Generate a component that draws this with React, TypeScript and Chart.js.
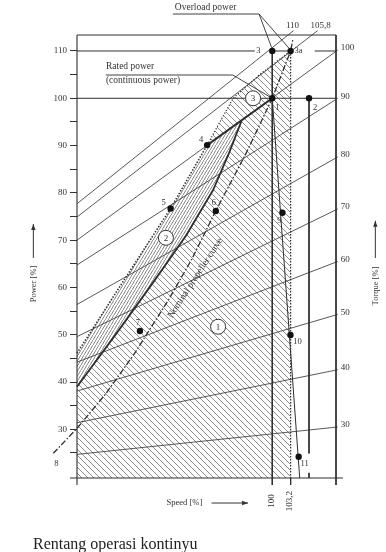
import React, { useEffect, useRef } from 'react';
import { Chart, registerables } from 'chart.js';

Chart.register(...registerables);

// ---------------- Data ----------------
const SPEED_MIN = 66;
const SPEED_MAX = 111.1;
const POWER_MIN = 19.71;
const POWER_MAX = 113.38;

const powerTicks = [25, 30, 35, 40, 45, 50, 55, 60, 65, 70, 75, 80, 85, 90, 95, 100, 105, 110];
const powerTickLabels = ['', '30', '', '40', '', '50', '', '60', '', '70', '', '80', '', '90', '', '100', '', '110'];
const speedTicks = [100, 103.2];
const speedTickLabels = ['100', '103,2'];

// torque lines (straight), start at left axis, end at right frame / top
const torqueLabels = ['110', '105,8', '100', '90', '80', '70', '60', '50', '40', '30'];
const torqueStartPower = [77.7, 74.9, 70, 64.75, 56.4, 49.6, 44.2, 38.1, 31.4, 24.7];
const torqueEndSpeed = [103.7, 107.9, 111.4, 111.4, 111.4, 111.4, 111.4, 111.4, 111.4, 111.4];
const torqueEndPower = [114.3, 114.3, 110.2, 100, 87.6, 76.6, 65.5, 54.3, 42.6, 30.5];

// numbered operating points
const pointNames = ['3', '3a', '1', '2', '4', '5', '6', '7', '8', '9', '10', '11'];
const pointSpeed = [100, 103.2, 100, 106.4, 88.66, 82.3, 90.17, 76.96, 61.88, 101.77, 103.17, 104.6];
const pointPower = [110, 110, 100, 100, 90.1, 76.7, 76.17, 50.8, 24.93, 75.8, 49.95, 24.2];

// circled zone numbers
const zoneNames = ['1', '2', '3'];
const zoneSpeed = [90.57, 81.48, 96.66];
const zonePower = [51.7, 70.5, 100];

// boundary of continuous range (thick solid curve)
const limitSpeed = [66, 73, 79.57, 85, 89.7, 92.5, 94.64];
const limitPower = [39.0, 50.5, 61.6, 71, 80.6, 88.5, 95.2];

// overload limit (dotted curve)
const overloadSpeed = [66, 74, 82.3, 88.66, 93.18, 98, 103.2];
const overloadPower = [46.1, 61.2, 76.7, 90.1, 100, 105.2, 110];

// nominal propeller curve (dash-dot)
const propSpeed = [60.9, 61.88, 66, 71, 76, 82, 86, 90.17, 95.5, 100, 103.2, 103.6];
const propPower = [23.1, 24.93, 30.2, 37.5, 46, 57.5, 66, 76.2, 88.5, 100, 110, 112.5];

// reference levels
const ratedPower = 100;
const overloadPower110 = 110;
const ratedSpeed = 100;
const maxSpeed = 103.2;
const point2Speed = 106.4;
const lineFrom1EndSpeed = 104.78;

// ---------------- helpers ----------------
const FONT = '"Liberation Serif", "Times New Roman", serif';
const INK = '#2e2e2e';

const pts = (xs: number[], ys: number[]) => xs.map((x, i) => ({ x, y: ys[i] }));

function makeHatch(w: number, h: number, lines: number[][], color: string, lw: number) {
  const c = document.createElement('canvas');
  c.width = w;
  c.height = h;
  const g = c.getContext('2d')!;
  g.strokeStyle = color;
  g.lineWidth = lw;
  g.beginPath();
  for (const [a, b, cc, d] of lines) {
    g.moveTo(a, b);
    g.lineTo(cc, d);
  }
  g.stroke();
  return g.createPattern(c, 'repeat')!;
}

function lineDs(data: any[], o: any = {}) {
  return {
    data,
    showLine: true,
    borderColor: o.color ?? INK,
    borderWidth: o.w ?? 0.9,
    borderDash: o.dash ?? [],
    pointRadius: 0,
    pointHoverRadius: 0,
    fill: false,
    tension: 0,
    clip: false,
    order: o.order ?? 5,
  };
}

const annotate = {
  id: 'annotate',
  afterDatasetsDraw(chart: any) {
    const { ctx } = chart;
    const xs = chart.scales.x;
    const ys = chart.scales.y;
    const px = (s: number) => xs.getPixelForValue(s);
    const py = (p: number) => ys.getPixelForValue(p);
    ctx.save();
    ctx.fillStyle = '#333';

    // torque labels
    ctx.font = `9px ${FONT}`;
    torqueLabels.forEach((t, i) => {
      const ex = px(torqueEndSpeed[i]);
      const ey = py(torqueEndPower[i]);
      if (i < 2) {
        ctx.textAlign = 'center';
        ctx.textBaseline = 'middle';
        ctx.fillText(t, ex + (i === 0 ? -1 : 3), ey - 5);
      } else {
        ctx.textAlign = 'left';
        ctx.textBaseline = 'middle';
        ctx.fillText(t, ex + 3, ey - 2);
      }
    });

    // point labels
    const off: Record<string, number[]> = {
      '3': [-14, 0], '3a': [8, 0], '1': [5, 9], '2': [6, 9], '4': [-6, -5], '5': [-7, -6],
      '6': [-2, -8], '7': [-2, -8], '8': [3, 10], '9': [-3, 8], '10': [7, 7], '11': [6, 7],
    };
    ctx.font = `8.5px ${FONT}`;
    ctx.textAlign = 'center';
    ctx.textBaseline = 'middle';
    pointNames.forEach((n, i) => {
      const [dx, dy] = off[n];
      ctx.fillText(n, px(pointSpeed[i]) + dx, py(pointPower[i]) + dy);
    });

    // zone numbers
    ctx.font = `9px ${FONT}`;
    zoneNames.forEach((n, i) => ctx.fillText(n, px(zoneSpeed[i]), py(zonePower[i]) + 0.5));

    // annotations
    ctx.font = `9.5px ${FONT}`;
    ctx.textAlign = 'left';
    ctx.fillText('Overload power', px(83.04), py(119.2));
    ctx.fillText('Rated power', px(71.04), py(106.68));
    ctx.fillText('(continuous power)', px(71.04), py(103.66));

    // nominal propeller curve text
    ctx.save();
    ctx.translate(px(86.6), py(62.0));
    ctx.rotate((-57 * Math.PI) / 180);
    ctx.textAlign = 'center';
    ctx.font = `9.5px ${FONT}`;
    ctx.fillText('Nominal propeller curve', 0, 0);
    ctx.restore();

    // axis titles
    ctx.font = `8.5px ${FONT}`;
    const vtext = (t: string, x: number, y: number) => {
      ctx.save();
      ctx.translate(x, y);
      ctx.rotate(-Math.PI / 2);
      ctx.textAlign = 'center';
      ctx.textBaseline = 'middle';
      ctx.fillText(t, 0, 0);
      ctx.restore();
    };
    vtext('Power [%]', px(58.4), py(60.73));
    vtext('Torque [%]', px(117.95), py(60.31));
    ctx.textAlign = 'left';
    ctx.textBaseline = 'middle';
    ctx.fillText('Speed [%]', px(81.6), py(14.42));

    // speed tick labels (rotated)
    ctx.font = `9px ${FONT}`;
    speedTicks.forEach((s, i) => vtext(speedTickLabels[i], px(s) - 1, py(POWER_MIN) + 23));

    // arrows
    const arrow = (x1: number, y1: number, x2: number, y2: number) => {
      ctx.strokeStyle = '#333';
      ctx.lineWidth = 1;
      ctx.beginPath();
      ctx.moveTo(x1, y1);
      ctx.lineTo(x2, y2);
      ctx.stroke();
      const a = Math.atan2(y2 - y1, x2 - x1);
      ctx.beginPath();
      ctx.moveTo(x2, y2);
      ctx.lineTo(x2 - 6 * Math.cos(a) + 2.2 * Math.sin(a), y2 - 6 * Math.sin(a) - 2.2 * Math.cos(a));
      ctx.lineTo(x2 - 6 * Math.cos(a) - 2.2 * Math.sin(a), y2 - 6 * Math.sin(a) + 2.2 * Math.cos(a));
      ctx.closePath();
      ctx.fill();
    };
    arrow(px(58.4), py(66.23), px(58.4), py(73.42));
    arrow(px(117.95), py(66.23), px(117.95), py(74.1));
    arrow(px(89.43), py(14.42), px(95.79), py(14.42));

    ctx.restore();
  },
};

export default function App() {
  const ref = useRef<HTMLCanvasElement>(null);

  useEffect(() => {
    const canvas = ref.current!;
    const hatchWide = makeHatch(6, 6, [[0, -6, 6, 0], [0, 0, 6, 6], [0, 6, 6, 12]], '#5c5c5c', 0.7);
    const hatchDense = makeHatch(3, 5, [[0, 0, 3, -5], [0, 5, 3, 0], [0, 10, 3, 5]], '#505050', 0.7);

    const datasets: any[] = [];
    const add = (d: any) => {
      datasets.push(d);
      return datasets.length - 1;
    };

    // --- hatched zones ---
    add({
      ...lineDs(
        [
          ...pts(limitSpeed, limitPower),
          { x: ratedSpeed, y: ratedPower },
          { x: maxSpeed, y: overloadPower110 },
          { x: maxSpeed, y: POWER_MIN },
        ],
        { w: 0, color: 'rgba(0,0,0,0)', order: 20 }
      ),
      fill: { value: POWER_MIN },
      backgroundColor: hatchWide,
    });
    const z2lower = add(lineDs(pts(limitSpeed, limitPower), { w: 0, color: 'rgba(0,0,0,0)', order: 21 }));
    add({
      ...lineDs(
        [...pts(overloadSpeed.slice(0, 4), overloadPower.slice(0, 4)), { x: limitSpeed[6], y: limitPower[6] }],
        { w: 0, color: 'rgba(0,0,0,0)', order: 19 }
      ),
      fill: z2lower,
      backgroundColor: hatchDense,
    });
    const z3lower = add(
      lineDs(
        [
          { x: overloadSpeed[3], y: overloadPower[3] },
          { x: ratedSpeed, y: ratedPower },
          { x: maxSpeed, y: overloadPower110 },
        ],
        { w: 0, color: 'rgba(0,0,0,0)', order: 21 }
      )
    );
    add({
      ...lineDs(pts(overloadSpeed.slice(3), overloadPower.slice(3)), { w: 0, color: 'rgba(0,0,0,0)', order: 19 }),
      fill: z3lower,
      backgroundColor: hatchWide,
    });

    // --- frame & axes ---
    add(lineDs([{ x: SPEED_MIN, y: POWER_MAX }, { x: SPEED_MAX, y: POWER_MAX }], { w: 1 }));
    add(lineDs([{ x: SPEED_MAX, y: POWER_MAX }, { x: SPEED_MAX, y: 18.23 }], { w: 1 }));
    add(lineDs([{ x: SPEED_MIN, y: POWER_MAX }, { x: SPEED_MIN, y: 18.23 }], { w: 1.1 }));
    add(lineDs([{ x: 64.78, y: POWER_MIN }, { x: 112.3, y: POWER_MIN }], { w: 1.1 }));

    // --- power levels ---
    add(lineDs([{ x: SPEED_MIN, y: overloadPower110 }, { x: 96.96, y: overloadPower110 }], { w: 1 }));
    add(lineDs([{ x: ratedSpeed, y: overloadPower110 }, { x: maxSpeed, y: overloadPower110 }], { w: 1 }));
    add(lineDs([{ x: 107.4, y: overloadPower110 }, { x: SPEED_MAX, y: overloadPower110 }], { w: 1 }));
    add(lineDs([{ x: SPEED_MIN, y: ratedPower }, { x: SPEED_MAX, y: ratedPower }], { w: 1 }));

    // --- speed verticals ---
    add(lineDs([{ x: ratedSpeed, y: overloadPower110 }, { x: ratedSpeed, y: 18.23 }], { w: 1 }));
    add(lineDs([{ x: maxSpeed, y: overloadPower110 }, { x: maxSpeed, y: POWER_MIN }], { w: 1.2, dash: [1.5, 1.5] }));
    add(lineDs([{ x: maxSpeed, y: POWER_MIN }, { x: maxSpeed, y: 18.23 }], { w: 1 }));
    add(lineDs([{ x: point2Speed, y: ratedPower }, { x: point2Speed, y: 24.9 }], { w: 1 }));
    add(lineDs([{ x: point2Speed, y: 20.8 }, { x: point2Speed, y: POWER_MIN }], { w: 1 }));
    add(lineDs([{ x: ratedSpeed, y: ratedPower }, { x: lineFrom1EndSpeed, y: POWER_MIN }], { w: 1 }));

    // --- torque lines ---
    torqueLabels.forEach((_, i) => {
      add(
        lineDs(
          [
            { x: SPEED_MIN, y: torqueStartPower[i] },
            { x: torqueEndSpeed[i], y: torqueEndPower[i] },
          ],
          { w: 0.85, color: '#3a3a3a' }
        )
      );
    });

    // --- limits ---
    add(lineDs([{ x: overloadSpeed[3], y: overloadPower[3] }, { x: ratedSpeed, y: ratedPower }], { w: 2, order: 4 }));
    add(lineDs(pts(limitSpeed, limitPower), { w: 1.8, order: 4 }));
    add(lineDs(pts(overloadSpeed.slice(0, 4), overloadPower.slice(0, 4)), { w: 1.6, dash: [1.4, 1.6], order: 4 }));
    add(lineDs(pts(overloadSpeed.slice(3), overloadPower.slice(3)), { w: 1.2, dash: [1.2, 1.8], order: 4 }));
    add(lineDs(pts(propSpeed, propPower), { w: 1.3, dash: [6, 2, 1.5, 2], order: 4 }));

    // --- leader lines ---
    add(lineDs([{ x: 82.7, y: 117.82 }, { x: 97.7, y: 117.82 }, { x: 99.9, y: 110.7 }], { w: 0.9 }));
    add(lineDs([{ x: 97.7, y: 117.82 }, { x: 102.9, y: 110.6 }], { w: 0.9 }));
    add(lineDs([{ x: 71.04, y: 104.92 }, { x: 93.13, y: 104.92 }, { x: ratedSpeed, y: ratedPower }], { w: 0.9 }));

    // --- zone circles & points ---
    add({
      data: pts(zoneSpeed, zonePower),
      showLine: false,
      pointRadius: 7.5,
      pointHoverRadius: 7.5,
      pointBackgroundColor: '#fff',
      pointBorderColor: '#333',
      pointBorderWidth: 1,
      clip: false,
      order: 2,
    });
    add({
      data: pts(pointSpeed, pointPower),
      showLine: false,
      pointRadius: 3.2,
      pointHoverRadius: 3.2,
      pointBackgroundColor: '#111',
      pointBorderWidth: 0,
      clip: false,
      order: 1,
    });

    const chart = new Chart(canvas, {
      type: 'scatter',
      data: { datasets },
      options: {
        responsive: false,
        devicePixelRatio: 1,
        animation: false,
        events: [],
        layout: { padding: { left: 0, top: 35, right: 50, bottom: 74 } },
        plugins: { legend: { display: false }, tooltip: { enabled: false } },
        scales: {
          x: { type: 'linear', min: SPEED_MIN, max: SPEED_MAX, display: false },
          y: {
            type: 'linear',
            min: POWER_MIN,
            max: POWER_MAX,
            position: 'left',
            afterBuildTicks: (scale: any) => {
              scale.ticks = powerTicks.map((v) => ({ value: v }));
            },
            afterFit: (scale: any) => {
              scale.width = 77;
            },
            border: { display: false },
            grid: { drawOnChartArea: false, drawTicks: true, tickLength: 7, tickColor: '#333', tickWidth: 1 },
            ticks: {
              autoSkip: false,
              padding: 3,
              color: '#333',
              font: { family: FONT, size: 9 },
              callback: (v: any) => {
                const i = powerTicks.indexOf(Number(v));
                return i >= 0 ? powerTickLabels[i] : '';
              },
            },
          },
        },
      },
      plugins: [annotate],
    } as any);
    return () => chart.destroy();
  }, []);

  return (
    <div style={{ position: 'absolute', left: 0, top: 0, width: 386, height: 552, background: '#fff' }}>
      <canvas ref={ref} width={386} height={552} style={{ display: 'block', width: 386, height: 552 }} />
      <div
        style={{
          position: 'absolute',
          left: 33,
          top: 535,
          fontFamily: FONT,
          fontSize: 16,
          lineHeight: '18px',
          color: '#222',
          whiteSpace: 'nowrap',
        }}
      >
        Rentang operasi kontinyu
      </div>
    </div>
  );
}
